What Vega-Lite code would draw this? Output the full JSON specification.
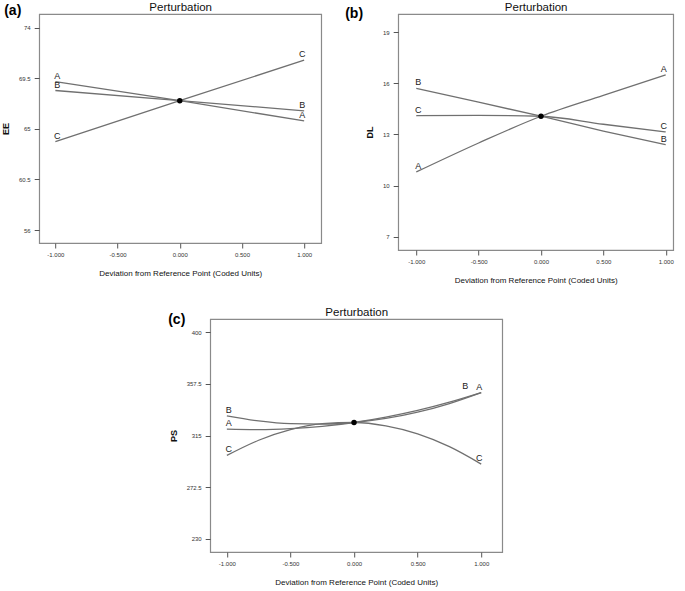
{
  "$schema": "https://vega.github.io/schema/vega-lite/v6.json",
  "background": "white",
  "padding": {"left": 0, "top": 0, "right": 5, "bottom": 5},
  "center": true,
  "spacing": 20,
  "datasets": {
    "ee": [
      {"factor": "A", "x": -1, "y": 69.2},
      {"factor": "A", "x": 0, "y": 67.5},
      {"factor": "A", "x": 1, "y": 65.7},
      {"factor": "B", "x": -1, "y": 68.4},
      {"factor": "B", "x": 0, "y": 67.5},
      {"factor": "B", "x": 1, "y": 66.6},
      {"factor": "C", "x": -1, "y": 63.85},
      {"factor": "C", "x": 0, "y": 67.5},
      {"factor": "C", "x": 1, "y": 71.1}
    ],
    "dl": [
      {"factor": "A", "x": -1, "y": 10.8},
      {"factor": "A", "x": -0.5, "y": 12.5},
      {"factor": "A", "x": 0, "y": 14.07},
      {"factor": "A", "x": 0.5, "y": 15.3},
      {"factor": "A", "x": 1, "y": 16.5},
      {"factor": "B", "x": -1, "y": 15.7},
      {"factor": "B", "x": -0.5, "y": 14.9},
      {"factor": "B", "x": 0, "y": 14.07},
      {"factor": "B", "x": 0.5, "y": 13.2},
      {"factor": "B", "x": 1, "y": 12.4},
      {"factor": "C", "x": -1, "y": 14.1},
      {"factor": "C", "x": -0.5, "y": 14.12},
      {"factor": "C", "x": 0, "y": 14.07},
      {"factor": "C", "x": 0.5, "y": 13.6},
      {"factor": "C", "x": 1, "y": 13.15}
    ],
    "ps": [
      {"factor": "A", "x": -1, "y": 320.3},
      {"factor": "A", "x": -0.75, "y": 319.9},
      {"factor": "A", "x": -0.5, "y": 320.7},
      {"factor": "A", "x": -0.25, "y": 322.6},
      {"factor": "A", "x": 0, "y": 325.8},
      {"factor": "A", "x": 0.25, "y": 330.2},
      {"factor": "A", "x": 0.5, "y": 335.7},
      {"factor": "A", "x": 0.75, "y": 342.5},
      {"factor": "A", "x": 1, "y": 350.4},
      {"factor": "B", "x": -1, "y": 331.3},
      {"factor": "B", "x": -0.75, "y": 327.1},
      {"factor": "B", "x": -0.5, "y": 324.8},
      {"factor": "B", "x": -0.25, "y": 324.4},
      {"factor": "B", "x": 0, "y": 325.8},
      {"factor": "B", "x": 0.25, "y": 329.1},
      {"factor": "B", "x": 0.5, "y": 334.3},
      {"factor": "B", "x": 0.75, "y": 341.4},
      {"factor": "B", "x": 1, "y": 350.4},
      {"factor": "C", "x": -1, "y": 298.7},
      {"factor": "C", "x": -0.75, "y": 311.2},
      {"factor": "C", "x": -0.5, "y": 319.9},
      {"factor": "C", "x": -0.25, "y": 324.8},
      {"factor": "C", "x": 0, "y": 325.8},
      {"factor": "C", "x": 0.25, "y": 323.0},
      {"factor": "C", "x": 0.5, "y": 316.4},
      {"factor": "C", "x": 0.75, "y": 305.9},
      {"factor": "C", "x": 1, "y": 291.6}
    ]
  },
  "config": {
    "font": "Liberation Sans",
    "view": {"stroke": "#8a8a8a", "strokeWidth": 1.2},
    "axis": {
      "domain": false,
      "grid": false,
      "tickColor": "#555555",
      "tickSize": 5,
      "labelFont": "Liberation Sans",
      "labelFontSize": 6,
      "labelColor": "#333333",
      "titleFont": "Liberation Sans",
      "titleColor": "#111111"
    },
    "axisX": {"labelPadding": 3, "titleFontSize": 8, "titleFontWeight": "normal", "titlePadding": 12},
    "axisY": {"labelPadding": 4, "titleFontSize": 9, "titleFontWeight": "bold", "titlePadding": 8},
    "axisTop": {"labels": false, "ticks": false, "domain": false, "titleFontSize": 11.5, "titleFontWeight": "normal", "titlePadding": 2, "titleColor": "#111111"},
    "title": {"font": "Liberation Sans", "fontSize": 14, "fontWeight": "bold", "color": "#000000", "anchor": "start", "frame": "group", "offset": 2},
    "text": {"font": "Liberation Sans", "fontSize": 9, "color": "#222222", "baseline": "bottom"},
    "line": {"color": "#707070", "strokeWidth": 1.3},
    "circle": {"color": "#000000", "size": 30, "opacity": 1}
  },
  "vconcat": [
    {
      "spacing": 22,
      "hconcat": [
        {
          "title": {"text": "(a)", "dx": -35, "dy": 19},
          "width": 282,
          "height": 229,
          "data": {"name": "ee"},
          "resolve": {"axis": {"x": "independent"}},
          "encoding": {
            "y": {"field": "y", "type": "quantitative", "scale": {"domain": [54.85, 75.2], "nice": false, "zero": false},
              "axis": {"values": [56, 60.5, 65, 69.5, 74], "labelExpr": "format(datum.value, '.1~f')", "title": "EE"}}
          },
          "layer": [
            {"mark": {"type": "line"},
             "encoding": {"detail": {"field": "factor"},
               "x": {"field": "x", "type": "quantitative", "scale": {"domain": [-1.13, 1.137], "nice": false, "zero": false},
                 "axis": {"values": [-1, -0.5, 0, 0.5, 1], "labelExpr": "(datum.value < 0 ? '-' : '') + format(abs(datum.value), '.3f')", "title": "Deviation from Reference Point (Coded Units)"}}}},
            {"transform": [{"filter": "datum.x == 0 && datum.factor == 'A'"}], "mark": {"type": "circle"},
             "encoding": {"x": {"field": "x", "type": "quantitative", "axis": {"orient": "top", "title": "Perturbation"}}}},
            {"transform": [{"filter": "datum.x == -1"}], "mark": {"type": "text", "dx": 2, "dy": -1},
             "encoding": {"x": {"field": "x", "type": "quantitative", "axis": null}, "text": {"field": "factor"}}},
            {"transform": [{"filter": "datum.x == 1"}], "mark": {"type": "text", "dx": -2, "dy": -1},
             "encoding": {"x": {"field": "x", "type": "quantitative", "axis": null}, "text": {"field": "factor"}}}
          ]
        },
        {
          "title": {"text": "(b)", "dx": -53, "dy": 22},
          "width": 275,
          "height": 236,
          "data": {"name": "dl"},
          "resolve": {"axis": {"x": "independent"}},
          "encoding": {
            "y": {"field": "y", "type": "quantitative", "scale": {"domain": [6.22, 20.07], "nice": false, "zero": false},
              "axis": {"values": [7, 10, 13, 16, 19], "labelExpr": "format(datum.value, '.1~f')", "title": "DL"}}
          },
          "layer": [
            {"mark": {"type": "line", "interpolate": "monotone"},
             "encoding": {"detail": {"field": "factor"},
               "x": {"field": "x", "type": "quantitative", "scale": {"domain": [-1.145, 1.06], "nice": false, "zero": false},
                 "axis": {"values": [-1, -0.5, 0, 0.5, 1], "labelExpr": "(datum.value < 0 ? '-' : '') + format(abs(datum.value), '.3f')", "title": "Deviation from Reference Point (Coded Units)"}}}},
            {"transform": [{"filter": "datum.x == 0 && datum.factor == 'A'"}], "mark": {"type": "circle"},
             "encoding": {"x": {"field": "x", "type": "quantitative", "axis": {"orient": "top", "title": "Perturbation"}}}},
            {"transform": [{"filter": "datum.x == -1"}], "mark": {"type": "text", "dx": 2, "dy": -1},
             "encoding": {"x": {"field": "x", "type": "quantitative", "axis": null}, "text": {"field": "factor"}}},
            {"transform": [{"filter": "datum.x == 1"}], "mark": {"type": "text", "dx": -2, "dy": -1},
             "encoding": {"x": {"field": "x", "type": "quantitative", "axis": null}, "text": {"field": "factor"}}}
          ]
        }
      ]
    },
    {
      "title": {"text": "(c)", "dx": -42, "dy": 23},
      "width": 292,
      "height": 233,
      "data": {"name": "ps"},
      "resolve": {"axis": {"x": "independent"}},
      "encoding": {
        "y": {"field": "y", "type": "quantitative", "scale": {"domain": [219.3, 410.9], "nice": false, "zero": false},
          "axis": {"values": [230, 272.5, 315, 357.5, 400], "labelExpr": "format(datum.value, '.1~f')", "title": "PS"}}
      },
      "layer": [
        {"mark": {"type": "line", "interpolate": "monotone"},
         "encoding": {"detail": {"field": "factor"},
           "x": {"field": "x", "type": "quantitative", "scale": {"domain": [-1.131, 1.165], "nice": false, "zero": false},
             "axis": {"values": [-1, -0.5, 0, 0.5, 1], "labelExpr": "(datum.value < 0 ? '-' : '') + format(abs(datum.value), '.3f')", "title": "Deviation from Reference Point (Coded Units)"}}}},
        {"transform": [{"filter": "datum.x == 0 && datum.factor == 'A'"}], "mark": {"type": "circle"},
         "encoding": {"x": {"field": "x", "type": "quantitative", "axis": {"orient": "top", "title": "Perturbation"}}}},
        {"transform": [{"filter": "datum.x == -1"}], "mark": {"type": "text", "dx": 2, "dy": -1},
         "encoding": {"x": {"field": "x", "type": "quantitative", "axis": null}, "text": {"field": "factor"}}},
        {"transform": [{"filter": "datum.x == 1 && datum.factor != 'B'"}], "mark": {"type": "text", "dx": -2, "dy": -1},
         "encoding": {"x": {"field": "x", "type": "quantitative", "axis": null}, "text": {"field": "factor"}}},
        {"transform": [{"filter": "datum.x == 1 && datum.factor == 'B'"}], "mark": {"type": "text", "dx": -16, "dy": -2},
         "encoding": {"x": {"field": "x", "type": "quantitative", "axis": null}, "text": {"field": "factor"}}}
      ]
    }
  ]
}
